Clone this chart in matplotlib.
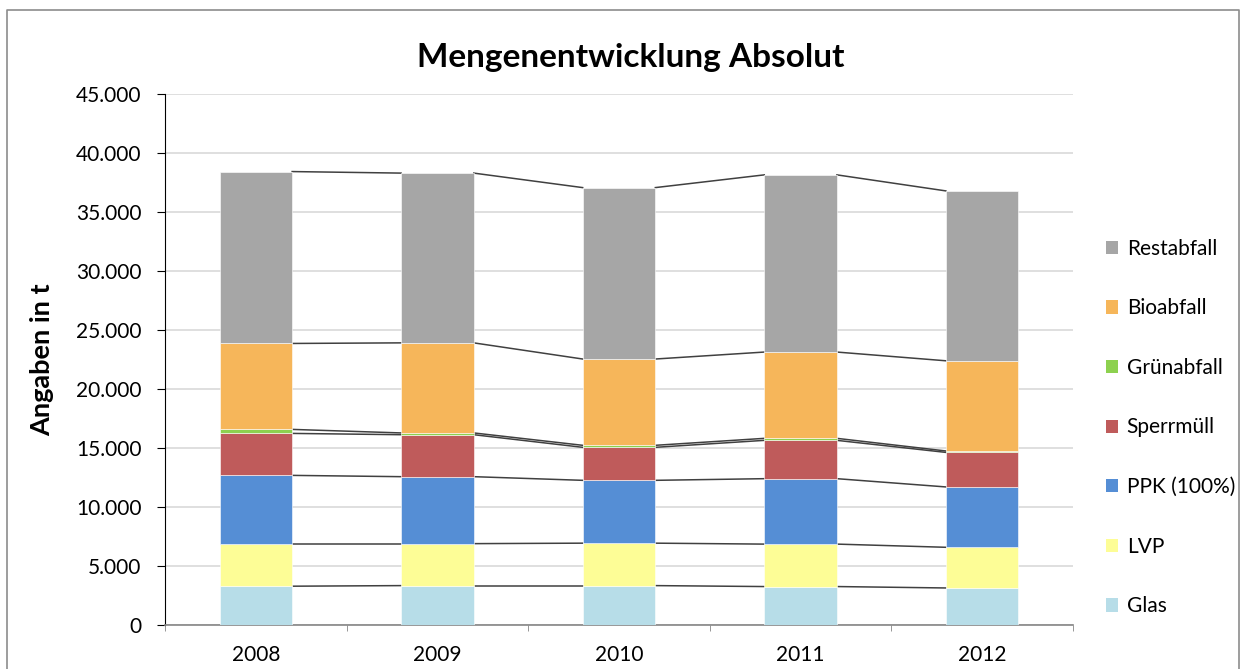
import matplotlib
matplotlib.use("Agg")
import matplotlib.pyplot as plt
import numpy as np
from matplotlib.ticker import FuncFormatter, MultipleLocator
from matplotlib.patches import Patch
from matplotlib.lines import Line2D

# data (t)
years = ["2008", "2009", "2010", "2011", "2012"]
glas = [3250, 3300, 3300, 3220, 3100]
lvp = [3610, 3560, 3600, 3600, 3450]
ppk = [5790, 5680, 5330, 5550, 5120]
sperrmuell = [3560, 3560, 2800, 3250, 2930]
gruenabfall = [340, 150, 170, 170, 120]
bioabfall = [7290, 7640, 7320, 7320, 7650]
restabfall = [14580, 14400, 14540, 15030, 14410]

labels = ["Glas", "LVP", "PPK (100%)", "Sperrmüll", "Grünabfall", "Bioabfall", "Restabfall"]
colors = ["#b7dde8", "#fdfd96", "#558ed5", "#bf5b5b", "#8dd14f", "#f6b65a", "#a6a6a6"]
series = [glas, lvp, ppk, sperrmuell, gruenabfall, bioabfall, restabfall]

plt.rcParams['font.family'] = ['Lato', 'DejaVu Sans']

fig = plt.figure(figsize=(12.41, 6.69), dpi=100)
ax = fig.add_axes([0.133, 0.0665, 0.7316, 0.793])

x = np.arange(len(years))
w = 0.4
bottom = np.zeros(len(years))
for vals, col, lab in zip(series, colors, labels):
    vals = np.array(vals, dtype=float)
    ax.bar(x, vals, w, bottom=bottom, color=col, edgecolor="white", linewidth=0.4, label=lab, zorder=3)
    bottom = bottom + vals
    # series lines between tops of neighbouring bars
    for i in range(len(years) - 1):
        ax.plot([x[i] + w / 2, x[i + 1] - w / 2], [bottom[i], bottom[i + 1]],
                color="#404040", linewidth=1.1, zorder=2)

ax.set_xlim(-0.5, len(years) - 0.5)
ax.set_ylim(0, 45000)
ax.yaxis.set_major_locator(MultipleLocator(5000))
ax.yaxis.set_major_formatter(FuncFormatter(lambda v, p: f"{int(v):,}".replace(",", ".")))
ax.grid(axis="y", color="#d9d9d9", linewidth=1.2, zorder=0)

ax.set_xticks(x)
ax.set_xticklabels(years)
ax.set_xticks(np.arange(-0.5, len(years)), minor=True)
ax.tick_params(axis="x", which="major", length=0, labelsize=15, pad=15)
ax.tick_params(axis="x", which="minor", length=4, color="#868686", direction="out")
ax.tick_params(axis="y", length=6, color="black", labelsize=15, pad=11)

for s in ["top", "right"]:
    ax.spines[s].set_visible(False)
ax.spines["left"].set_color("black")
ax.spines["bottom"].set_color("#868686")
ax.spines["bottom"].set_linewidth(1.2)

ax.set_ylabel("Angaben in t", fontsize=19.5, fontweight="bold", labelpad=16)
fig.text(0.508, 0.914, "Mengenentwicklung Absolut", ha="center", va="center",
         fontsize=24, fontweight="bold")

handles = [Patch(facecolor=c, edgecolor="none") for c in colors][::-1]
fig.legend(handles, labels[::-1], loc="center left", bbox_to_anchor=(0.876, 0.361),
           frameon=False, fontsize=15, labelspacing=1.9, handlelength=0.6,
           handleheight=0.6, handletextpad=0.4)

# chart area border
fig.add_artist(Line2D([0.0056, 0.0056, 0.998, 0.998], [0.0, 0.985, 0.985, 0.0],
                      transform=fig.transFigure, color="#8c8c8c", linewidth=1.2))

fig.savefig("out.png", dpi=100)
